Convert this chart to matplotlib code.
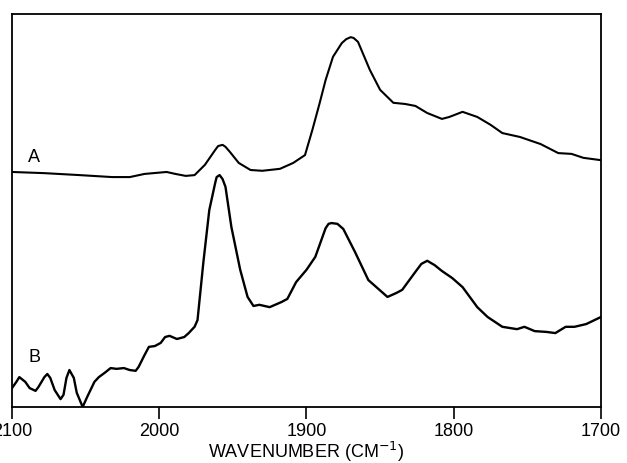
import numpy as np
import matplotlib
matplotlib.use("Agg")
import matplotlib.pyplot as plt

plt.rcParams["font.family"] = ["Liberation Sans", "DejaVu Sans"]

# spectrum A (upper trace), wavenumber in cm-1 and relative absorbance
wn_a = [2100, 2078, 2054, 2032, 2020, 2010, 1995, 1989, 1982, 1976, 1969, 1962,
        1960, 1957, 1955, 1952, 1946, 1938, 1930, 1918, 1909, 1901, 1896, 1891,
        1887, 1882, 1876, 1873, 1870, 1868, 1865, 1857, 1850, 1841, 1833, 1826,
        1818, 1808, 1803, 1794, 1784, 1775, 1767, 1755, 1741, 1729, 1720, 1712,
        1700]
abs_a = [0.598, 0.595, 0.590, 0.585, 0.585, 0.593, 0.598, 0.593, 0.588, 0.590,
         0.616, 0.654, 0.664, 0.667, 0.662, 0.649, 0.621, 0.603, 0.601, 0.606,
         0.621, 0.641, 0.705, 0.774, 0.832, 0.891, 0.926, 0.936, 0.941, 0.939,
         0.929, 0.858, 0.807, 0.774, 0.771, 0.766, 0.748, 0.733, 0.738, 0.751,
         0.738, 0.718, 0.697, 0.687, 0.669, 0.646, 0.644, 0.634, 0.628]

# spectrum B (lower trace)
wn_b = [2100, 2097, 2095, 2091, 2088, 2084, 2082, 2078, 2076, 2074, 2071, 2067,
        2065, 2063, 2061, 2058, 2056, 2052, 2049, 2044, 2041, 2037, 2033, 2029,
        2024, 2020, 2016, 2014, 2010, 2007, 2003, 1999, 1996, 1993, 1988, 1983,
        1980, 1976, 1974, 1970, 1966, 1962, 1961, 1959, 1957, 1955, 1951, 1945,
        1940, 1936, 1932, 1925, 1917, 1913, 1907, 1900, 1894, 1887, 1885, 1883,
        1879, 1875, 1867, 1858, 1845, 1839, 1835, 1826, 1822, 1818, 1813, 1808,
        1801, 1794, 1784, 1777, 1767, 1757, 1752, 1745, 1737, 1731, 1724, 1718,
        1710, 1700]
abs_b = [0.048, 0.064, 0.076, 0.064, 0.048, 0.041, 0.051, 0.076, 0.084, 0.074,
         0.043, 0.020, 0.031, 0.074, 0.094, 0.074, 0.036, 0.000, 0.025, 0.064,
         0.076, 0.087, 0.099, 0.097, 0.099, 0.094, 0.092, 0.102, 0.132, 0.153,
         0.155, 0.163, 0.178, 0.181, 0.173, 0.178, 0.188, 0.204, 0.221, 0.369,
         0.501, 0.570, 0.585, 0.590, 0.580, 0.560, 0.458, 0.349, 0.280, 0.257,
         0.260, 0.254, 0.267, 0.275, 0.318, 0.349, 0.382, 0.455, 0.466, 0.468,
         0.466, 0.453, 0.394, 0.323, 0.280, 0.290, 0.298, 0.344, 0.364, 0.372,
         0.361, 0.346, 0.328, 0.305, 0.254, 0.229, 0.204, 0.198, 0.204, 0.193,
         0.191, 0.188, 0.204, 0.204, 0.211, 0.229]

xticks = [2100, 2000, 1900, 1800, 1700]

fig = plt.figure(figsize=(6.27, 4.63), dpi=100)
ax = fig.add_axes([0.0191, 0.121, 0.9394, 0.8488])

ax.plot(wn_a, abs_a, color="black", lw=1.5, solid_joinstyle="round")
ax.plot(wn_b, abs_b, color="black", lw=1.7, solid_joinstyle="round")

ax.text(2085, 0.636, "A", fontsize=13, ha="center", va="center")
ax.text(2085, 0.127, "B", fontsize=13, ha="center", va="center")

ax.set_xlim(2100, 1700)
ax.set_ylim(0, 1)
ax.set_xticks(xticks)
ax.set_xticklabels([str(t) for t in xticks], fontsize=13)
ax.set_yticks([])
ax.tick_params(axis="x", direction="out", length=8.6, width=1.2, pad=3)
for s in ax.spines.values():
    s.set_linewidth(1.3)

ax.set_xlabel("WAVENUMBER (CM$^{-1}$)", fontsize=13, labelpad=0)

fig.savefig("out.png", dpi=100)
